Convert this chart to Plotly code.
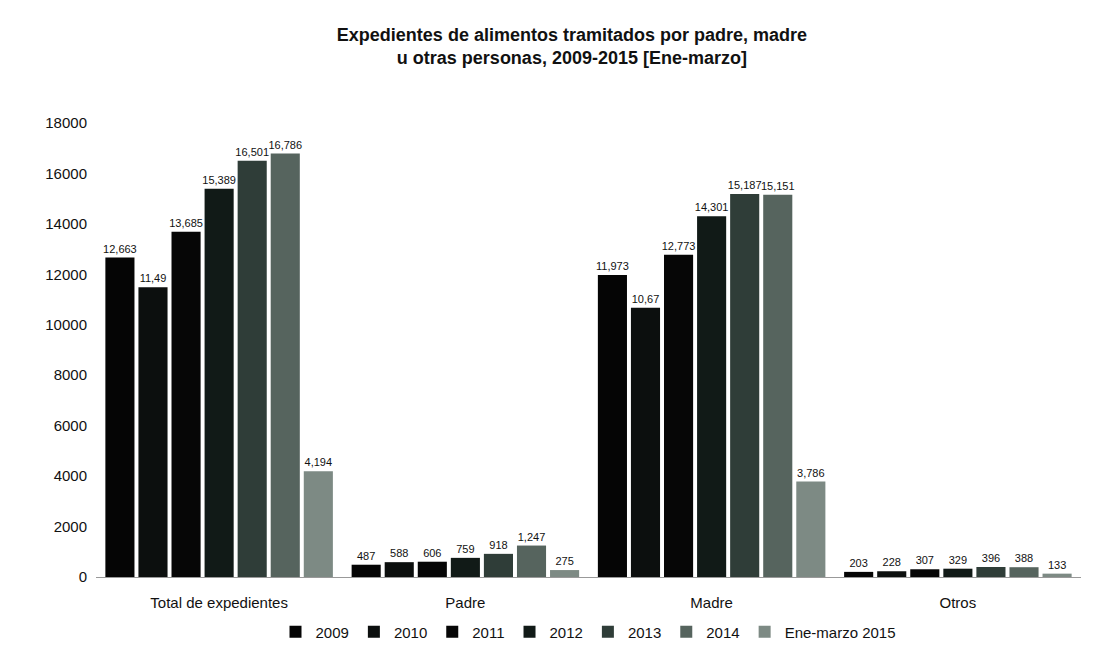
import plotly.graph_objects as go

categories = ["Total de expedientes", "Padre", "Madre", "Otros"]
series_names = ["2009", "2010", "2011", "2012", "2013", "2014", "Ene-marzo 2015"]
values = {
    "2009": [12663, 487, 11973, 203],
    "2010": [11490, 588, 10677, 228],
    "2011": [13685, 606, 12773, 307],
    "2012": [15389, 759, 14301, 329],
    "2013": [16501, 918, 15187, 396],
    "2014": [16786, 1247, 15151, 388],
    "Ene-marzo 2015": [4194, 275, 3786, 133],
}
labels = {
    "2009": ["12,663", "487", "11,973", "203"],
    "2010": ["11,49", "588", "10,67", "228"],
    "2011": ["13,685", "606", "12,773", "307"],
    "2012": ["15,389", "759", "14,301", "329"],
    "2013": ["16,501", "918", "15,187", "396"],
    "2014": ["16,786", "1,247", "15,151", "388"],
    "Ene-marzo 2015": ["4,194", "275", "3,786", "133"],
}
colors = ["#050505", "#0c0f0e", "#060606", "#111a17", "#2f3d38", "#56645e", "#7d8a84"]

fig = go.Figure()
for name, col in zip(series_names, colors):
    fig.add_trace(go.Bar(
        x=categories, y=values[name], name=name,
        marker=dict(color=col, line=dict(width=0)),
        text=labels[name], textposition="outside", textangle=0,
        constraintext="none",
        textfont=dict(size=11, color="#111", family="Liberation Sans, Arial"),
        cliponaxis=False,
    ))

fig.update_layout(
    barmode="group", bargap=0.06, bargroupgap=0.12,
    width=1095, height=653,
    paper_bgcolor="white", plot_bgcolor="white",
    font=dict(family="Liberation Sans, Arial", color="#111"),
    title=dict(
        text="<b>Expedientes de alimentos tramitados por padre, madre<br>u otras personas, 2009-2015 [Ene-marzo]</b>",
        x=0.515, xanchor="center", y=0.95, yanchor="top",
        font=dict(size=18, color="#111"),
    ),
    margin=dict(l=88, r=22, t=115, b=78),
    legend=dict(orientation="h", x=0.5, xanchor="center", y=-0.085, yanchor="top",
                font=dict(size=15, color="#111"), itemwidth=30, traceorder="normal"),
    showlegend=True,
)
fig.update_yaxes(range=[0, 18000], dtick=2000, tickformat="d", showgrid=False, zeroline=False,
                 showline=False, tickfont=dict(size=15, color="#111"), ticks="",
                 ticklabelstandoff=8)
fig.update_xaxes(showline=True, linecolor="#999", linewidth=1, tickfont=dict(size=15, color="#111"),
                 ticklabelstandoff=12)

fig.write_html("out.html")
